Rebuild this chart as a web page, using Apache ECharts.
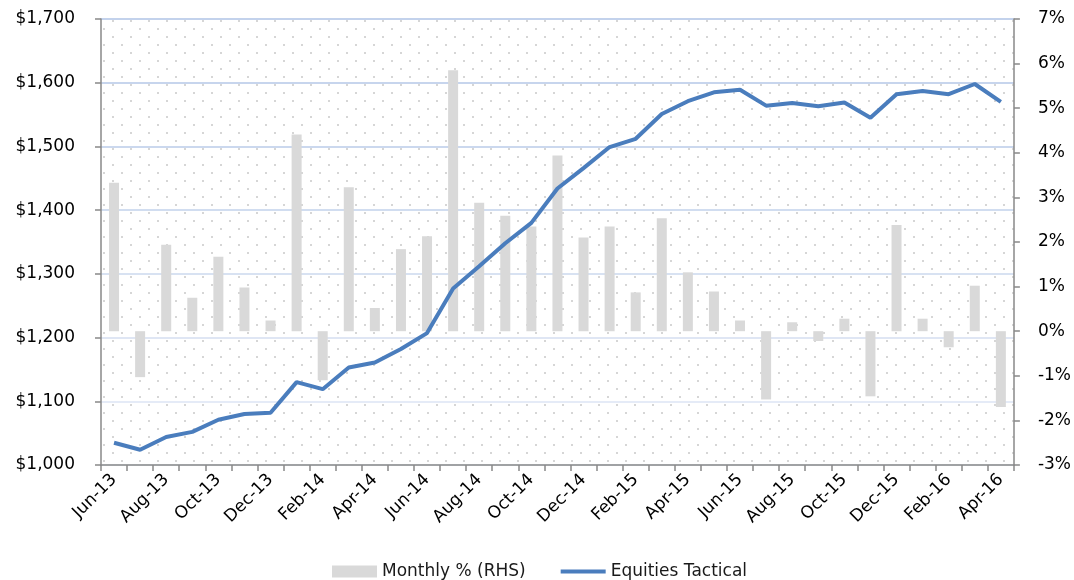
<!DOCTYPE html>
<html lang="en">
<head>
    <meta charset="UTF-8">
    <title>Equities Tactical</title>
    <script src="https://cdn.jsdelivr.net/npm/echarts@6/dist/echarts.min.js"></script>
    <style>
        html, body { margin: 0; padding: 0; background: #fff; }
        #chart { width: 1074px; height: 580px; }
    </style>
</head>
<body>
<div id="chart"></div>
<script>
    // month labels, Jun-13 .. Apr-16
    var months = [
        'Jun-13', 'Jul-13', 'Aug-13', 'Sep-13', 'Oct-13', 'Nov-13', 'Dec-13',
        'Jan-14', 'Feb-14', 'Mar-14', 'Apr-14', 'May-14', 'Jun-14', 'Jul-14', 'Aug-14',
        'Sep-14', 'Oct-14', 'Nov-14', 'Dec-14',
        'Jan-15', 'Feb-15', 'Mar-15', 'Apr-15', 'May-15', 'Jun-15', 'Jul-15', 'Aug-15',
        'Sep-15', 'Oct-15', 'Nov-15', 'Dec-15',
        'Jan-16', 'Feb-16', 'Mar-16', 'Apr-16'
    ];

    // growth of $1,000 (left axis)
    var equitiesTactical = [
        1035, 1024, 1044, 1052, 1071, 1080, 1082,
        1130, 1119, 1153, 1161, 1182, 1207, 1277, 1312,
        1348, 1380, 1434, 1466,
        1499, 1512, 1551, 1571, 1585, 1589, 1564, 1568,
        1563, 1569, 1545, 1582,
        1587, 1582, 1598, 1570
    ];

    // monthly return in % (right axis)
    var monthlyPct = [
        3.33, -1.03, 1.94, 0.75, 1.67, 0.98, 0.24,
        4.41, -1.10, 3.23, 0.52, 1.84, 2.13, 5.85, 2.88,
        2.59, 2.35, 3.94, 2.10,
        2.35, 0.87, 2.53, 1.32, 0.89, 0.24, -1.53, 0.20,
        -0.22, 0.28, -1.46, 2.38,
        0.28, -0.36, 1.02, -1.70
    ];

    var font = 'DejaVu Sans';
    var axisGrey = '#898989';

    // dotted plot-area background
    function dotPattern() {
        var c = document.createElement('canvas');
        c.width = 18;
        c.height = 16;
        var ctx = c.getContext('2d');
        ctx.fillStyle = '#fff';
        ctx.fillRect(0, 0, 18, 16);
        ctx.fillStyle = '#d6d6d6';
        ctx.fillRect(4, 4, 2, 2);
        ctx.fillRect(13, 12, 2, 2);
        return c;
    }

    var chart = echarts.init(document.getElementById('chart'));

    chart.setOption({
        animation: false,
        textStyle: {fontFamily: font},
        grid: {
            left: 101,
            right: 56,
            top: 19,
            bottom: 115,
            show: true,
            borderWidth: 0,
            backgroundColor: {image: dotPattern(), repeat: 'repeat'}
        },
        legend: {
            left: 327,
            top: 558,
            itemWidth: 45,
            itemHeight: 12,
            itemGap: 35,
            textStyle: {fontFamily: font, fontSize: 17, color: '#1a1a1a'},
            data: [
                {name: 'Monthly % (RHS)', icon: 'rect'},
                // thin bar centred in a 45x12 box, so it reads as a line
                {name: 'Equities Tactical', icon: 'path://M0,0 M0,4 L45,4 L45,8 L0,8 Z M45,12'}
            ]
        },
        xAxis: {
            type: 'category',
            data: months,
            boundaryGap: true,
            axisLine: {onZero: false, lineStyle: {color: axisGrey, width: 1.5}},
            axisTick: {show: true, interval: 0, length: 6, lineStyle: {color: axisGrey, width: 1.5}},
            axisLabel: {
                interval: 1,
                rotate: 45,
                margin: 12,
                color: '#000',
                fontSize: 17,
                fontFamily: font
            }
        },
        yAxis: [
            {
                type: 'value',
                min: 1000,
                max: 1700,
                interval: 100,
                axisLine: {show: true, lineStyle: {color: axisGrey, width: 1.5}},
                axisTick: {show: true, length: 6, lineStyle: {color: axisGrey, width: 1.5}},
                axisLabel: {
                    margin: 26,
                    color: '#000',
                    fontSize: 17,
                    fontFamily: font,
                    formatter: function (v) {
                        return '$' + v.toLocaleString('en-US');
                    }
                },
                splitLine: {
                    show: true,
                    lineStyle: {
                        width: 1.5,
                        color: ['#dde6f4', '#dce5f4', '#d4def1', '#cbd8ee', '#c2d2eb', '#bacbe8', '#b4c7e7', '#afc3e6']
                    }
                }
            },
            {
                type: 'value',
                min: -3,
                max: 7,
                interval: 1,
                position: 'right',
                axisLine: {show: true, lineStyle: {color: axisGrey, width: 1.5}},
                axisTick: {show: true, length: 6, lineStyle: {color: axisGrey, width: 1.5}},
                axisLabel: {
                    margin: 24,
                    color: '#000',
                    fontSize: 17,
                    fontFamily: font,
                    formatter: '{value}%'
                },
                splitLine: {show: false}
            }
        ],
        series: [
            {
                name: 'Monthly % (RHS)',
                type: 'bar',
                yAxisIndex: 1,
                data: monthlyPct,
                barWidth: 10,
                itemStyle: {color: '#d9d9d9'},
                z: 2
            },
            {
                name: 'Equities Tactical',
                type: 'line',
                yAxisIndex: 0,
                data: equitiesTactical,
                symbol: 'none',
                lineStyle: {color: '#4a7dbd', width: 4},
                itemStyle: {color: '#4a7dbd'},
                z: 3
            }
        ]
    });
</script>
</body>
</html>
